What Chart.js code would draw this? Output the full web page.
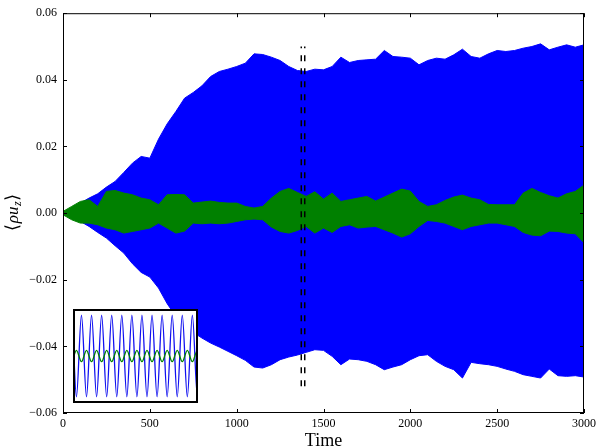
<!DOCTYPE html>
<html>
<head>
<meta charset="utf-8">
<script src="https://cdn.jsdelivr.net/npm/chart.js@4.4.1/dist/chart.umd.min.js"></script>
<style>
  body { margin: 0; background: #fff; }
  #wrap { position: relative; width: 600px; height: 448px; }
  #inset { position: absolute; left: 73px; top: 309px; }
</style>
</head>
<body>
<div id="wrap">
  <canvas id="mainChart" width="600" height="448"></canvas>
  <canvas id="inset" width="125" height="94"></canvas>
</div>
<script>
// time samples for the envelopes (read every 50 time units)
const time = [0, 50, 100, 150, 200, 250, 300, 350, 400, 450, 500, 550, 600, 650, 700, 750, 800, 850, 900, 950,
  1000, 1050, 1100, 1150, 1200, 1250, 1300, 1350, 1400, 1450, 1500, 1550, 1600, 1650, 1700, 1750, 1800, 1850, 1900, 1950,
  2000, 2050, 2100, 2150, 2200, 2250, 2300, 2350, 2400, 2450, 2500, 2550, 2600, 2650, 2700, 2750, 2800, 2850, 2900, 2950, 3000];

// blue signal, upper and lower envelope
const blueTop = [0.0000, 0.0015, 0.0030, 0.0045, 0.0058, 0.0078, 0.0095, 0.0122, 0.0150, 0.0170, 0.0165, 0.0222, 0.0268, 0.0305, 0.0345, 0.0362, 0.0382, 0.0410, 0.0425, 0.0432,
  0.0440, 0.0450, 0.0478, 0.0476, 0.0468, 0.0458, 0.0440, 0.0428, 0.0425, 0.0432, 0.0430, 0.0440, 0.0468, 0.0452, 0.0458, 0.0460, 0.0462, 0.0488, 0.0470, 0.0468,
  0.0465, 0.0445, 0.0458, 0.0465, 0.0462, 0.0475, 0.0492, 0.0470, 0.0465, 0.0478, 0.0488, 0.0485, 0.0488, 0.0495, 0.0500, 0.0508, 0.0490, 0.0498, 0.0505, 0.0498, 0.0505];
const blueBottom = [0.0000, -0.0012, -0.0025, -0.0040, -0.0058, -0.0075, -0.0098, -0.0120, -0.0152, -0.0178, -0.0192, -0.0225, -0.0272, -0.0310, -0.0340, -0.0358, -0.0375, -0.0390, -0.0402, -0.0415,
  -0.0428, -0.0442, -0.0462, -0.0465, -0.0455, -0.0440, -0.0432, -0.0426, -0.0418, -0.0410, -0.0412, -0.0430, -0.0455, -0.0438, -0.0440, -0.0445, -0.0455, -0.0470, -0.0462, -0.0455,
  -0.0440, -0.0428, -0.0425, -0.0445, -0.0460, -0.0470, -0.0495, -0.0448, -0.0452, -0.0455, -0.0460, -0.0468, -0.0475, -0.0485, -0.0490, -0.0495, -0.0468, -0.0488, -0.0490, -0.0488, -0.0492];

// green signal, upper and lower envelope
const greenTop = [0.0005, 0.0020, 0.0035, 0.0040, 0.0020, 0.0065, 0.0068, 0.0060, 0.0055, 0.0045, 0.0040, 0.0025, 0.0055, 0.0056, 0.0055, 0.0030, 0.0033, 0.0036, 0.0032, 0.0030,
  0.0030, 0.0020, 0.0015, 0.0020, 0.0045, 0.0065, 0.0074, 0.0062, 0.0050, 0.0064, 0.0042, 0.0060, 0.0035, 0.0040, 0.0045, 0.0050, 0.0036, 0.0048, 0.0060, 0.0072,
  0.0066, 0.0035, 0.0020, 0.0025, 0.0038, 0.0048, 0.0054, 0.0045, 0.0040, 0.0026, 0.0025, 0.0025, 0.0025, 0.0060, 0.0074, 0.0062, 0.0052, 0.0045, 0.0058, 0.0065, 0.0084];
const greenBottom = [-0.0005, -0.0020, -0.0030, -0.0030, -0.0035, -0.0045, -0.0050, -0.0060, -0.0055, -0.0050, -0.0045, -0.0030, -0.0045, -0.0060, -0.0054, -0.0030, -0.0032, -0.0030, -0.0032, -0.0030,
  -0.0025, -0.0020, -0.0018, -0.0020, -0.0042, -0.0055, -0.0060, -0.0052, -0.0040, -0.0060, -0.0045, -0.0058, -0.0040, -0.0035, -0.0045, -0.0042, -0.0040, -0.0050, -0.0060, -0.0072,
  -0.0062, -0.0040, -0.0022, -0.0025, -0.0030, -0.0040, -0.0050, -0.0040, -0.0035, -0.0030, -0.0030, -0.0035, -0.0040, -0.0058, -0.0066, -0.0068, -0.0054, -0.0055, -0.0060, -0.0062, -0.0089];

// the two dashed markers
const dashTimes = [1372, 1392];
const dashRange = [-0.052, 0.050];

// tick labels
const xTicks = [0, 500, 1000, 1500, 2000, 2500, 3000];
const yTicks = [-0.06, -0.04, -0.02, 0.00, 0.02, 0.04, 0.06];

// inset: a short window of both signals (extrema)
const insetX = [0, 3.4, 8.4, 13.4, 18.4, 23.4, 28.4, 33.4, 38.4, 43.4, 48.4, 53.4, 58.4, 63.4, 68.4, 73.4, 78.4, 83.4, 88.4, 93.4, 98.4, 103.4, 108.4, 113.4, 118.4, 123.4, 124];
const insetBlue = [0.5, -1, 1, -1, 1, -1, 1, -1, 1, -1, 1, -1, 1, -1, 1, -1, 1, -1, 1, -1, 1, -1, 1, -1, 1, -1, -0.98];
const insetGreen = [-0.07, 0.14, -0.14, 0.14, -0.14, 0.14, -0.14, 0.14, -0.14, 0.14, -0.14, 0.14, -0.14, 0.14, -0.14, 0.14, -0.14, 0.14, -0.14, 0.14, -0.14, 0.14, -0.14, 0.14, -0.14, 0.14, 0.13];

const BLUE = '#0000ff';
const GREEN = '#008000';
const FONT = 'Liberation Serif';

function toPoints(xs, ys) {
  return xs.map((x, i) => ({x: x, y: ys[i]}));
}

function fmtY(v) {
  if (Math.abs(v) < 1e-9) return '0.00';
  return v.toFixed(2).replace('-', '\u2212');
}

// frame, inward ticks on all four sides, and the axis titles
const framePlugin = {
  id: 'frame',
  afterDraw(chart) {
    const ctx = chart.ctx;
    const a = chart.chartArea;
    const sx = chart.scales.x, sy = chart.scales.y;
    ctx.save();
    ctx.strokeStyle = '#000';
    ctx.lineWidth = 1;
    ctx.strokeRect(a.left + 0.5, a.top + 0.5, a.right - a.left - 1, a.bottom - a.top - 1);
    ctx.beginPath();
    xTicks.forEach(t => {
      const px = Math.round(sx.getPixelForValue(t)) + 0.5;
      ctx.moveTo(px, a.bottom); ctx.lineTo(px, a.bottom - 4);
      ctx.moveTo(px, a.top); ctx.lineTo(px, a.top + 4);
    });
    yTicks.forEach(t => {
      const py = Math.round(sy.getPixelForValue(t)) + 0.5;
      ctx.moveTo(a.left, py); ctx.lineTo(a.left + 4, py);
      ctx.moveTo(a.right, py); ctx.lineTo(a.right - 4, py);
    });
    ctx.stroke();

    // x title
    ctx.fillStyle = '#000';
    ctx.font = '18px "' + FONT + '"';
    ctx.textAlign = 'center';
    ctx.textBaseline = 'alphabetic';
    ctx.fillText('Time', (a.left + a.right) / 2, 446);

    // y title: <rho u_z>
    ctx.translate(18, (a.top + a.bottom) / 2);
    ctx.rotate(-Math.PI / 2);
    ctx.textAlign = 'left';
    const parts = [
      {t: '\u27E8', f: '18px "' + FONT + '"', dy: 0},
      {t: '\u03C1u', f: 'italic 17px "' + FONT + '"', dy: 0},
      {t: 'z', f: 'italic 12px "' + FONT + '"', dy: 3},
      {t: '\u27E9', f: '18px "' + FONT + '"', dy: 0}
    ];
    let total = 0;
    parts.forEach(p => { ctx.font = p.f; p.w = ctx.measureText(p.t).width; total += p.w; });
    let x = -total / 2;
    parts.forEach(p => { ctx.font = p.f; ctx.fillText(p.t, x, p.dy); x += p.w + 0.5; });
    ctx.restore();
  }
};

const lineStyle = (color) => ({
  borderColor: color, backgroundColor: color, borderWidth: 1,
  pointRadius: 0, tension: 0
});

new Chart(document.getElementById('mainChart'), {
  type: 'line',
  data: {
    datasets: [
      Object.assign({label: 'mark1', data: [{x: dashTimes[0], y: dashRange[0]}, {x: dashTimes[0], y: dashRange[1]}], fill: false}, lineStyle('#000'), {borderWidth: 1.5, borderDash: [6, 7]}),
      Object.assign({label: 'mark2', data: [{x: dashTimes[1], y: dashRange[0]}, {x: dashTimes[1], y: dashRange[1]}], fill: false}, lineStyle('#000'), {borderWidth: 1.5, borderDash: [6, 7]}),
      Object.assign({label: 'green top', data: toPoints(time, greenTop), fill: '+1'}, lineStyle(GREEN)),
      Object.assign({label: 'green bottom', data: toPoints(time, greenBottom), fill: false}, lineStyle(GREEN)),
      Object.assign({label: 'blue top', data: toPoints(time, blueTop), fill: '+1'}, lineStyle(BLUE)),
      Object.assign({label: 'blue bottom', data: toPoints(time, blueBottom), fill: false}, lineStyle(BLUE))
    ]
  },
  options: {
    responsive: false,
    animation: false,
    layout: { autoPadding: false, padding: { top: 8, right: 12, left: 0, bottom: 0 } },
    plugins: { legend: { display: false }, tooltip: { enabled: false } },
    scales: {
      x: {
        type: 'linear', min: 0, max: 3000,
        afterBuildTicks: s => { s.ticks = xTicks.map(v => ({value: v})); },
        afterFit: s => { s.height = 35; },
        grid: { display: false, drawTicks: false },
        border: { display: false },
        ticks: { color: '#000', padding: 4, maxRotation: 0, autoSkip: false, callback: v => String(v), font: { family: FONT, size: 12 } }
      },
      y: {
        min: -0.06, max: 0.06,
        afterBuildTicks: s => { s.ticks = yTicks.map(v => ({value: v})); },
        afterFit: s => { s.width = 63; },
        grid: { display: false, drawTicks: false },
        border: { display: false },
        ticks: { color: '#000', padding: 6, callback: v => fmtY(v), font: { family: FONT, size: 12 } }
      }
    }
  },
  plugins: [framePlugin]
});

// inset panel
const insetFrame = {
  id: 'insetFrame',
  beforeDraw(chart) {
    const ctx = chart.ctx;
    ctx.save();
    ctx.fillStyle = '#fff';
    ctx.fillRect(0, 0, chart.width, chart.height);
    ctx.restore();
  },
  afterDraw(chart) {
    const ctx = chart.ctx;
    ctx.save();
    ctx.strokeStyle = '#000';
    ctx.lineWidth = 2;
    ctx.strokeRect(1, 1, chart.width - 2, chart.height - 2);
    ctx.restore();
  }
};

new Chart(document.getElementById('inset'), {
  type: 'line',
  data: {
    datasets: [
      {data: toPoints(insetX, insetGreen), borderColor: GREEN, borderWidth: 1.3, pointRadius: 0, fill: false, cubicInterpolationMode: 'monotone'},
      {data: toPoints(insetX, insetBlue), borderColor: '#1010f0', borderWidth: 1.3, pointRadius: 0, fill: false, cubicInterpolationMode: 'monotone'}
    ]
  },
  options: {
    responsive: false,
    animation: false,
    layout: { autoPadding: false, padding: 0 },
    plugins: { legend: { display: false }, tooltip: { enabled: false } },
    scales: {
      x: { type: 'linear', display: false, min: 0, max: 124 },
      y: { display: false, min: -1.15, max: 1.15 }
    }
  },
  plugins: [insetFrame]
});
</script>
</body>
</html>
